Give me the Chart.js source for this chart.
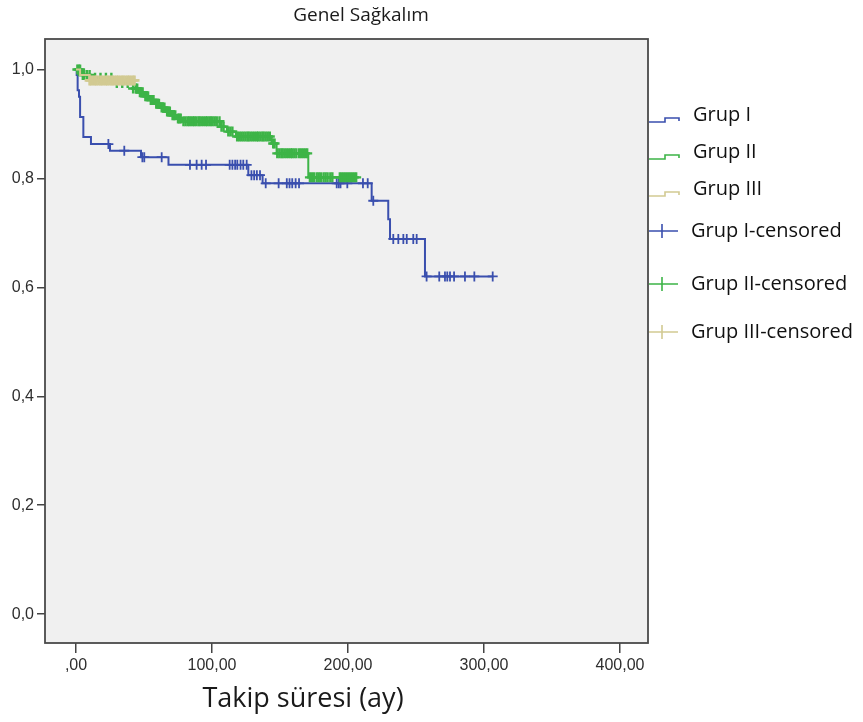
<!DOCTYPE html>
<html>
<head>
<meta charset="utf-8">
<script src="https://cdn.jsdelivr.net/npm/chart.js@4.4.1/dist/chart.umd.min.js"></script>
<style>
  html, body { margin: 0; padding: 0; background: #fff; }
</style>
</head>
<body>
<canvas id="graficoSagkalim" width="863" height="722"></canvas>
<script>
// Eje X / eje Y
const xTicks = [0, 100, 200, 300, 400];
const xTickLabels = [",00", "100,00", "200,00", "300,00", "400,00"];
const yTicks = [0, 0.2, 0.4, 0.6, 0.8, 1.0];
const yTickLabels = ["0,0", "0,2", "0,4", "0,6", "0,8", "1,0"];

// Grup I: tiempos de evento y supervivencia
const g1T = [0, 0.5, 1.2, 2.2, 3, 5.4, 11, 25, 47.8, 68, 126.7, 137.2, 217.4, 229.6, 230.9, 256.6, 306.8];
const g1S = [1.0, 0.99, 0.962, 0.95, 0.913, 0.876, 0.863, 0.851, 0.839, 0.825, 0.806, 0.791, 0.759, 0.725, 0.689, 0.62, 0.62];
const g1C = [23.8, 35.5, 48.8, 50.2, 63, 83.8, 88.7, 92.4, 95.6, 113, 115, 117, 118.6, 121, 123, 125.5,
  129, 131, 133, 135.3, 139.5, 149, 155, 157, 159, 161.5, 164, 191.7, 193.2, 194.5, 199.5, 211, 214.5,
  218.6, 233.3, 237, 240.7, 243.2, 248, 250.5, 257.8, 267.1, 271.3, 273, 275, 278, 286, 292.9, 306.4];

// Grup II
const g2T = [0, 4, 12, 30, 42, 46, 50, 54, 58, 62, 66, 70, 74, 78, 106, 111, 117.6, 143.9, 147.5, 170.8, 207];
const g2S = [1.0, 0.99, 0.985, 0.975, 0.965, 0.958, 0.951, 0.944, 0.937, 0.93, 0.923, 0.916, 0.91, 0.905,
  0.895, 0.886, 0.877, 0.864, 0.846, 0.802, 0.802];
const g2C = [1, 2, 3, 5, 6, 8, 10, 14, 18, 22, 26, 30, 34, 38,
  42, 44, 45, 47, 48, 49, 51, 52, 53, 55, 56, 57, 59, 60, 61, 63, 64, 65, 67, 68, 69, 71, 72, 73, 75, 76, 77, 79,
  80.5, 82, 83.2, 84.5, 86, 87, 88.4, 90, 91, 92.5, 94, 95.5, 96.5, 98, 99.2, 100.5, 102, 103.5,
  105.5, 107, 108.5, 112, 113.5, 115,
  118.5, 120, 121.5, 123, 124.5, 126, 127, 128.5, 130, 131.5, 133, 134, 135.5, 137, 138, 139.5, 141, 142.5,
  145, 146,
  148, 149.5, 151, 152, 153.5, 155, 156.5, 158, 159, 160.5, 162, 164, 165.5, 167, 168.5, 170,
  172, 173.5, 175, 177, 178.5, 180, 182, 183.5, 185, 187, 188.5, 194, 195.5, 197, 198.5, 200, 201.5, 203, 204.5, 206];

// Grup III
const g3T = [0, 3, 10, 43];
const g3S = [1.0, 0.99, 0.98, 0.98];
const g3C = [10, 11, 12.5, 14, 15, 16.5, 18, 19, 20.5, 22, 23, 24.5, 26, 27, 28.5, 30, 31, 32.5, 34, 35,
  36.5, 38, 39, 40.5, 42, 43];

const azul = "#3a4fae";
const verde = "#3db447";
const crema = "#d2ca92";

function pasos(T, S) {
  return T.map((t, i) => ({ x: t, y: S[i] }));
}
// marca censurada sobre la curva escalonada
function censurados(C, T, S) {
  return C.map(t => {
    let k = 0;
    for (let i = 0; i < T.length; i++) if (T[i] <= t) k = i;
    return { x: t, y: S[k] };
  });
}

function curva(label, T, S, color, orden) {
  return { label, data: pasos(T, S), borderColor: color, backgroundColor: color, borderWidth: 2,
    stepped: true, pointRadius: 0, fill: false, order: orden, tipo: "paso" };
}
function marcas(label, C, T, S, color, orden, grosor) {
  return { label, data: censurados(C, T, S), borderColor: color, backgroundColor: color, showLine: false,
    pointStyle: "cross", pointRadius: 5, borderWidth: grosor, order: orden, tipo: "cruz" };
}

const fondoYTextos = {
  id: "fondoYTextos",
  beforeDatasetsDraw(chart) {
    const { ctx, chartArea: a } = chart;
    ctx.save();
    ctx.fillStyle = "#f0f0f0";
    ctx.fillRect(a.left, a.top, a.right - a.left, a.bottom - a.top);
    ctx.restore();
  },
  afterDraw(chart) {
    const { ctx, chartArea: a } = chart;
    ctx.save();
    ctx.strokeStyle = "#4a4a4a";
    ctx.lineWidth = 1.8;
    ctx.strokeRect(a.left, a.top, a.right - a.left, a.bottom - a.top);

    ctx.fillStyle = "#1a1a1a";
    ctx.textAlign = "center";
    ctx.textBaseline = "alphabetic";
    ctx.font = "19px 'Open Sans'";
    ctx.fillText("Genel Sağkalım", 361, 21);
    ctx.font = "27px 'Open Sans'";
    ctx.fillText("Takip süresi (ay)", 303, 707);

    // leyenda
    const filas = [115, 152, 189, 231, 284, 332];
    ctx.textAlign = "left";
    ctx.textBaseline = "middle";
    ctx.font = "20px 'Open Sans'";
    chart.data.datasets.forEach((d, i) => {
      const y = filas[i];
      ctx.strokeStyle = d.borderColor;
      ctx.lineWidth = 1.6;
      ctx.beginPath();
      if (d.tipo === "paso") {
        ctx.moveTo(649, y + 7);
        ctx.lineTo(665, y + 7);
        ctx.lineTo(665, y + 3);
        ctx.lineTo(679, y + 3);
        ctx.lineTo(679, y + 6);
      } else {
        ctx.moveTo(649, y);
        ctx.lineTo(678, y);
        ctx.moveTo(662, y - 7);
        ctx.lineTo(662, y + 7);
      }
      ctx.stroke();
      ctx.fillStyle = "#111";
      ctx.fillText(d.label, d.tipo === "paso" ? 693 : 691, y);
    });
    ctx.restore();
  }
};

new Chart(document.getElementById("graficoSagkalim"), {
  type: "line",
  data: {
    datasets: [
      curva("Grup I", g1T, g1S, azul, 6),
      curva("Grup II", g2T, g2S, verde, 4),
      curva("Grup III", g3T, g3S, crema, 2),
      marcas("Grup I-censored", g1C, g1T, g1S, azul, 5, 1.8),
      marcas("Grup II-censored", g2C, g2T, g2S, verde, 3, 2.4),
      marcas("Grup III-censored", g3C, g3T, g3S, crema, 1, 2.6)
    ]
  },
  options: {
    responsive: false,
    animation: false,
    layout: { padding: { top: 39, right: 215, bottom: 0, left: 0 } },
    plugins: { legend: { display: false }, tooltip: { enabled: false }, title: { display: false } },
    scales: {
      x: {
        type: "linear", min: -22.8, max: 420.6,
        afterBuildTicks: s => { s.ticks = xTicks.map(v => ({ value: v })); },
        afterFit: s => { s.height = 79; },
        ticks: { callback: v => xTickLabels[xTicks.indexOf(v)], autoSkip: false, maxRotation: 0,
          font: { family: "'Liberation Sans'", size: 16 }, color: "#2e2e2e", padding: 3 },
        grid: { drawOnChartArea: false, drawTicks: true, tickLength: 10, color: "#444", lineWidth: 1.5 },
        border: { display: false }
      },
      y: {
        type: "linear", min: -0.053, max: 1.056,
        afterBuildTicks: s => { s.ticks = yTicks.map(v => ({ value: v })); },
        afterFit: s => { s.width = 45; },
        ticks: { callback: v => yTickLabels[yTicks.indexOf(v)], autoSkip: false,
          font: { family: "'Liberation Sans'", size: 16 }, color: "#2e2e2e", padding: 3 },
        grid: { drawOnChartArea: false, drawTicks: true, tickLength: 8, color: "#444", lineWidth: 1.5 },
        border: { display: false }
      }
    }
  },
  plugins: [fondoYTextos]
});
</script>
</body>
</html>
